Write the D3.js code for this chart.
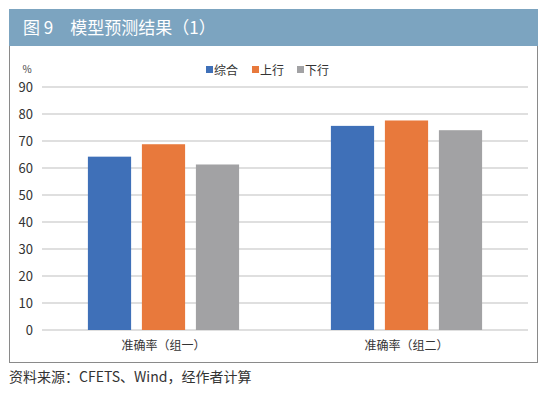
<!DOCTYPE html>
<html>
<head>
<meta charset="utf-8">
<script src="https://cdn.jsdelivr.net/npm/d3@7"></script>
<style>
  body { margin: 0; background: #fff; }
  svg { font-family: "Noto Sans CJK SC", "Noto Sans", sans-serif; }
</style>
</head>
<body>
<svg width="550" height="395"></svg>
<script>
// data
let categories = ['准确率（组一）', '准确率（组二）'];
let seriesNames = ['综合', '上行', '下行'];
let seriesValues = [
  [64.2, 75.6],   // 综合
  [68.8, 77.6],   // 上行
  [61.3, 74.0]    // 下行
];
let yTicks = [0, 10, 20, 30, 40, 50, 60, 70, 80, 90];
let colors = ['#3f70b8', '#e8793c', '#a2a2a4'];

const svg = d3.select('svg');

// frame + header band
svg.append('rect')
    .attr('x', 9.5).attr('y', 9.5)
    .attr('width', 528).attr('height', 353)
    .attr('fill', '#fff').attr('stroke', '#8a8a8a');
svg.append('rect')
    .attr('x', 9).attr('y', 9)
    .attr('width', 529).attr('height', 37)
    .attr('fill', '#7ca4c0');
svg.append('text')
    .attr('x', 23).attr('y', 34)
    .attr('fill', '#fff')
    .attr('font-size', 17)
    .text('图 9\u2003模型预测结果（1）');

let plotLeft = 42, plotRight = 528, plotTop = 87, plotBottom = 330;

let yScale = d3.scaleLinear()
    .domain([0, 90])
    .range([plotBottom, plotTop]);

let x0 = d3.scaleBand()
    .domain(categories)
    .range([plotLeft, plotRight]);

let x1 = d3.scaleBand()
    .domain(seriesNames)
    .range([0, x0.bandwidth()])
    .paddingInner(0.2)
    .paddingOuter(0.85);

// grid
svg.append('g')
    .selectAll('line')
    .data(yTicks)
    .enter()
    .append('line')
        .attr('x1', plotLeft).attr('x2', plotRight)
        .attr('y1', d => yScale(d)).attr('y2', d => yScale(d))
        .attr('stroke', '#d4d4d4')
        .attr('stroke-width', 1.5);

// y labels
svg.append('g')
    .selectAll('text')
    .data(yTicks)
    .enter()
    .append('text')
        .attr('x', 33)
        .attr('y', d => yScale(d) + 4.5)
        .attr('text-anchor', 'end')
        .attr('font-size', 13)
        .attr('fill', '#333')
        .text(d => d);

svg.append('text')
    .attr('x', 27).attr('y', 73)
    .attr('text-anchor', 'middle')
    .attr('font-size', 10)
    .attr('fill', '#444')
    .text('%');

// bars
let groups = svg.append('g')
    .selectAll('g')
    .data(seriesNames)
    .enter()
    .append('g')
        .attr('fill', (d, i) => colors[i]);

groups.selectAll('rect')
    .data((s, i) => seriesValues[i].map((v, j) => ({ s: s, cat: categories[j], v: v })))
    .enter()
    .append('rect')
        .attr('x', d => x0(d.cat) + x1(d.s))
        .attr('y', d => yScale(d.v))
        .attr('width', x1.bandwidth())
        .attr('height', d => plotBottom - yScale(d.v));

// category labels
svg.append('g')
    .selectAll('text')
    .data(categories)
    .enter()
    .append('text')
        .attr('x', d => x0(d) + x0.bandwidth() / 2)
        .attr('y', 350)
        .attr('text-anchor', 'middle')
        .attr('font-size', 12)
        .attr('fill', '#333')
        .text(d => d);

// legend
let legendX = [206, 252, 297];
let legend = svg.append('g')
    .selectAll('g')
    .data(seriesNames)
    .enter()
    .append('g')
        .attr('transform', (d, i) => `translate(${legendX[i]},70)`);
legend.append('rect')
    .attr('x', 0).attr('y', -4)
    .attr('width', 7).attr('height', 7)
    .attr('fill', (d, i) => colors[i]);
legend.append('text')
    .attr('x', 8).attr('y', 4.5)
    .attr('font-size', 12)
    .attr('fill', '#333')
    .text(d => d);

// source
svg.append('text')
    .attr('x', 9).attr('y', 382)
    .attr('font-size', 14)
    .attr('fill', '#333')
    .text('资料来源：CFETS、Wind，经作者计算');
</script>
</body>
</html>
